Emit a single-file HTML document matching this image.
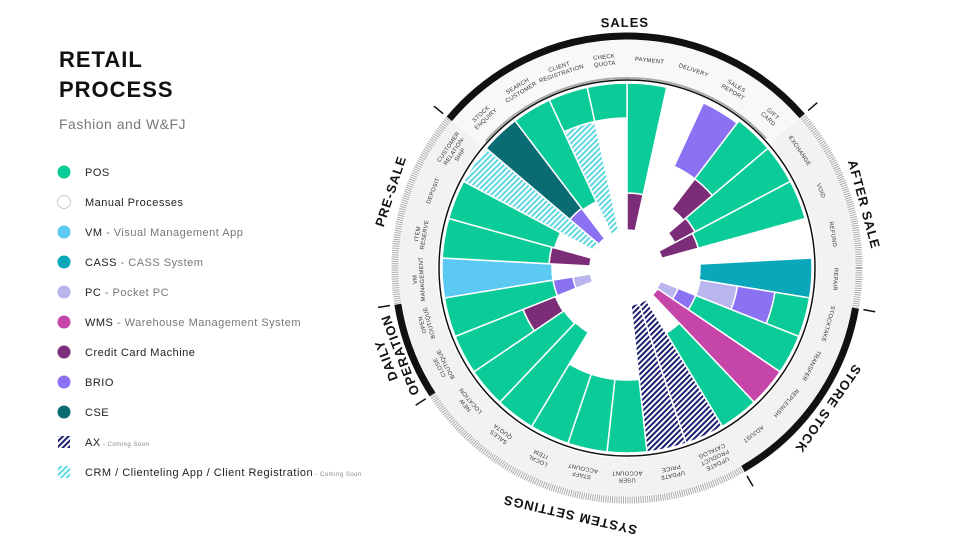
<!DOCTYPE html>
<html><head><meta charset="utf-8">
<style>
html,body{margin:0;padding:0;background:#fff;}
body{width:960px;height:540px;overflow:hidden;position:relative;font-family:"Liberation Sans",sans-serif;}
#c{position:absolute;left:0;top:0;}
</style></head>
<body>
<svg id="c" width="960" height="540" viewBox="0 0 960 540" xmlns="http://www.w3.org/2000/svg">
<defs>
<pattern id="ax" patternUnits="userSpaceOnUse" width="4" height="4" patternTransform="rotate(45)">
<rect width="4" height="4" fill="#fff"/><rect width="2" height="4" fill="#1b1f6e"/></pattern>
<pattern id="crm" patternUnits="userSpaceOnUse" width="4" height="4" patternTransform="rotate(45)">
<rect width="4" height="4" fill="#fff"/><rect width="2" height="4" fill="#5fd6e2"/></pattern>
</defs>
<text x="59" y="67" font-size="22" font-weight="bold" letter-spacing="1" fill="#111">RETAIL</text>
<text x="59" y="97" font-size="22" font-weight="bold" letter-spacing="1" fill="#111">PROCESS</text>
<text x="59" y="129" font-size="14" fill="#777" letter-spacing="0.5">Fashion and W&amp;FJ</text>
<g id="legend"></g>
<g id="chart"></g>
</svg>
<script>
var NS="http://www.w3.org/2000/svg";
function el(t,a,p,txt){var e=document.createElementNS(NS,t);for(var k in a)e.setAttribute(k,a[k]);if(txt!=null)e.textContent=txt;(p||document.getElementById('chart')).appendChild(e);return e;}
var G="#0bcb98",PU="#7b2d78",BR="#8a72f2",CSE="#0b6b73",CASS="#0aa6ba",VM="#5bc9f2",PC="#b9b5ee",WMS="#c645a8";
var L=[[G,"POS",""],["#fff","Manual Processes",""],[VM,"VM"," - Visual Management App"],[CASS,"CASS"," - CASS System"],[PC,"PC"," - Pocket PC"],[WMS,"WMS"," - Warehouse Management System"],[PU,"Credit Card Machine",""],[BR,"BRIO",""],[CSE,"CSE",""],["url(#ax)","AX",""],["url(#crm)","CRM / Clienteling App / Client Registration",""]];
var lg=document.getElementById('legend');
L.forEach(function(it,i){var y=172+i*30;
 if(i>=9){el('rect',{x:58,y:y-6,width:12,height:12,fill:it[0]},lg);}
 else el('circle',{cx:64,cy:y,r:6.5,fill:it[0],stroke:i==1?"#ccc":"none","stroke-width":1},lg);
 var t=el('text',{x:85,y:y+4,"font-size":"11","fill":"#222","letter-spacing":"0.5"},lg,it[1]);
 if(it[2]){el('tspan',{fill:"#777"},t,it[2]);}
 if(i>=9){el('tspan',{fill:"#888","font-size":"6"},t,"  - Coming Soon");}
});
var cx=627,cy=268,R=185;
function pt(r,a){a=a*Math.PI/180;return [cx+r*Math.sin(a),cy-r*Math.cos(a)];}
function wedge(r0,r1,a0,a1){var p1=pt(r1,a0),p2=pt(r1,a1),p3=pt(r0,a1),p4=pt(r0,a0);var lf=(a1-a0)>180?1:0;
 return "M"+p1+" A"+r1+","+r1+" 0 "+lf+" 1 "+p2+" L"+p3+" A"+r0+","+r0+" 0 "+lf+" 0 "+p4+"Z";}
function arc(r,a0,a1){var p1=pt(r,a0),p2=pt(r,a1);return "M"+p1+" A"+r+","+r+" 0 "+((a1-a0)>180?1:0)+" 1 "+p2;}
el('path',{d:wedge(190,228,0,359.99),fill:"#f2f2f2"});
el('path',{d:wedge(190,228,-50,49),fill:"#f8f8f8"});
el('circle',{cx:cx,cy:cy,r:232,fill:"none",stroke:"#aaa","stroke-width":7,"stroke-dasharray":"1 1.2"});
[[-50,49],[100,150],[237,261]].forEach(function(s){el('path',{d:arc(232,s[0],s[1]),fill:"none",stroke:"#111","stroke-width":7});});
[-50,49,100,150,237,261].forEach(function(a){var p=pt(240,a),q=pt(252,a);el('line',{x1:p[0],y1:p[1],x2:q[0],y2:q[1],stroke:"#111","stroke-width":1.5});});
el('circle',{cx:cx,cy:cy,r:188,fill:"#fff",stroke:"#111","stroke-width":1.5});
el('path',{d:arc(190,-48,47),fill:"none",stroke:"#aaa","stroke-width":2});
var W=360/29;
var B=[
[[38,75,PU],[75,R,G]],[],[[112,182,BR]],[[74,112,PU],[112,R,G]],[[54,77,PU],[77,R,G]],[[36,74,PU],[74,R,G]],[],
[[73,R,CASS]],[[74,112,PC],[112,150,BR],[150,R,G]],[[36,55,PC],[55,74,BR],[74,R,G]],[[37,R,WMS]],[[76,R,G]],
[[37,R,"url(#ax)"]],[[37,R,"url(#ax)"]],[[112,R,G]],[[112,R,G]],[[112,R,G]],[[75,R,G]],[[76,R,G]],
[[77,112,PU],[112,R,G]],[[37,55,PC],[55,75,BR],[75,R,G]],[[75,R,VM]],[[37,78,PU],[78,R,G]],[[75,R,G]],
[[37,R,"url(#crm)"]],[[37,75,BR],[75,R,CSE]],[[73,R,G]],[[37,150,"url(#crm)"],[150,R,G]],[[150,R,G]]];
B.forEach(function(b,i){b.forEach(function(s){el('path',{d:wedge(s[0],s[1],i*W,(i+1)*W),fill:s[2],stroke:"#fff","stroke-width":1.5});});});
var LB=[["PAYMENT"],["DELIVERY"],["SALES","REPORT"],["GIFT","CARD"],["EXCHANGE"],["VOID"],["REFUND"],["REPAIR"],["STOCKTAKE"],["TRANSFER"],["REPLENISH"],["ADJUST"],["UPDATE","PRODUCT","CATALOG"],["UPDATE","PRICE"],["USER","ACCOUNT"],["STAFF","ACCOUNT"],["LOCAL","ITEM"],["SALES","QUOTA"],["NEW","LOCATION"],["CLOSE","BOUTIQUE"],["OPEN","BOUTIQUE"],["VM","MANAGEMENT"],["ITEM","RESERVE"],["DEPOSIT"],["CUSTOMER","RELATION-","SHIP"],["STOCK","ENQUIRY"],["SEARCH","CUSTOMER"],["CLIENT","REGISTRATION"],["CHECK","QUOTA"]];
LB.forEach(function(l,i){var a=(i+0.5)*W;var p=pt(209,a);
 var g=el('g',{transform:"translate("+p[0]+","+p[1]+") rotate("+a+")"});
 var n=l.length;l.forEach(function(s,j){el('text',{x:0,y:(j-(n-1)/2)*7+2,"font-size":"5.8","text-anchor":"middle",fill:"#333","letter-spacing":"0.3"},g,s);});
});
[[["SALES"],-0.5,246],[["AFTER SALE"],75,246],[["STORE STOCK"],125,246],[["SYSTEM SETTINGS"],193,254],[["DAILY","OPERATION"],249,251],[["PRE-SALE"],288,249]].forEach(function(t){
 var a=t[1];var p=pt(t[2],a);
 var g=el('g',{transform:"translate("+p[0]+","+p[1]+") rotate("+a+")"});
 var n=t[0].length;t[0].forEach(function(s,j){el('text',{x:0,y:(j-(n-1)/2)*15+5,"font-size":"13","font-weight":"bold","text-anchor":"middle",fill:"#111","letter-spacing":"1"},g,s);});
});
</script>
</body></html>
